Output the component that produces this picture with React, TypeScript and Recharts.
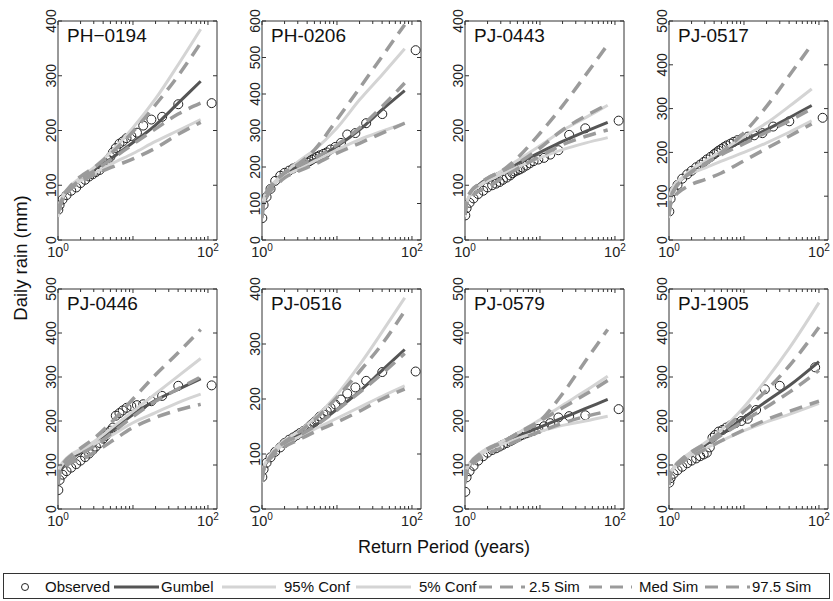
import React from 'react'
import {
  ComposedChart,
  Line,
  Scatter,
  XAxis,
  YAxis,
  ReferenceArea,
} from 'recharts'

const STATIONS = ['PH\u22120194', 'PH-0206', 'PJ-0443', 'PJ-0517', 'PJ-0446', 'PJ-0516', 'PJ-0579', 'PJ-1905']

// return periods (years) where the fitted curves are read
const T_GRID = [1, 1.05, 1.2, 1.5, 2, 3, 5, 10, 20, 40, 80]
const T_GRID_LONG = [1, 1.05, 1.2, 1.5, 2, 3, 5, 10, 20, 40, 100]

// plotting positions of the observed annual maxima
const OBS_T = [112, 40.2, 24.5, 17.6, 13.7, 11.3, 9.5, 8.2, 7.3, 6.6, 5.9, 5.4, 5.0, 4.6, 4.3, 4.0, 3.6, 3.2, 2.9, 2.6, 2.3, 2.0, 1.75, 1.5, 1.3, 1.15, 1.05, 1.01]
const OBS_T_SHORT = [89, 30, 19, 14.5, 11.2, 9.2, 7.7, 6.6, 5.8, 5.2, 4.6, 4.1, 3.8, 3.5, 3.2, 2.9, 2.6, 2.3, 2.0, 1.75, 1.5, 1.3, 1.15, 1.05, 1.01]

const GUMBEL = [
  [55, 65, 80, 97, 112, 128, 148, 178, 210, 250, 290],
  [69, 97, 124, 156, 179, 202, 220, 257, 302, 357, 409],
  [50, 65, 85, 100, 112, 124, 140, 160, 180, 198, 215],
  [65, 95, 118, 140, 158, 178, 200, 228, 252, 279, 307],
  [60, 82, 100, 115, 128, 145, 175, 215, 247, 272, 296],
  [57, 73, 88, 106, 121, 133, 151, 181, 214, 252, 290],
  [62, 85, 103, 120, 135, 148, 165, 186, 207, 228, 249],
  [58, 80, 97, 113, 128, 145, 170, 208, 245, 280, 335],
]

const CONF95 = [
  [42, 58, 82, 100, 114, 132, 160, 205, 258, 320, 385],
  [60, 97, 135, 161, 184, 214, 247, 307, 384, 453, 524],
  [42, 65, 85, 98, 110, 125, 145, 172, 200, 223, 246],
  [50, 96, 119, 141, 161, 180, 203, 236, 267, 305, 345],
  [60, 94, 109, 124, 136, 153, 182, 222, 262, 302, 342],
  [48, 75, 92, 110, 125, 140, 165, 208, 262, 322, 384],
  [60, 90, 108, 124, 138, 152, 172, 203, 236, 268, 302],
  [50, 80, 98, 115, 130, 150, 180, 232, 295, 365, 469],
]

const CONF5 = [
  [60, 68, 85, 98, 108, 121, 138, 158, 180, 200, 220],
  [78, 112, 135, 156, 175, 193, 216, 247, 275, 298, 320],
  [50, 68, 85, 97, 108, 120, 133, 150, 165, 177, 187],
  [80, 108, 127, 142, 153, 164, 180, 200, 222, 246, 272],
  [60, 90, 105, 121, 132, 147, 166, 196, 219, 242, 261],
  [55, 75, 90, 105, 118, 130, 145, 165, 185, 205, 224],
  [62, 88, 105, 120, 133, 146, 160, 176, 190, 200, 211],
  [60, 78, 95, 110, 123, 137, 155, 178, 198, 215, 240],
]

const SIM25 = [
  [52, 60, 78, 94, 106, 119, 132, 148, 168, 193, 215],
  [60, 97, 124, 147, 170, 188, 207, 238, 265, 293, 320],
  [46, 65, 77, 89, 96, 112, 130, 153, 174, 189, 201],
  [58, 81, 100, 115, 127, 138, 153, 181, 209, 237, 265],
  [55, 80, 94, 106, 112, 128, 152, 185, 208, 225, 238],
  [50, 70, 86, 100, 113, 125, 140, 158, 178, 200, 218],
  [58, 82, 98, 112, 125, 138, 155, 176, 195, 210, 222],
  [55, 77, 93, 107, 120, 135, 155, 180, 203, 222, 245],
]

const SIMMED = [
  [55, 64, 80, 96, 110, 126, 146, 175, 203, 230, 250],
  [69, 100, 128, 161, 184, 202, 224, 261, 307, 366, 430],
  [46, 71, 89, 101, 113, 125, 140, 168, 201, 226, 248],
  [60, 92, 116, 138, 156, 174, 195, 220, 246, 272, 300],
  [58, 82, 98, 112, 125, 142, 170, 210, 245, 273, 300],
  [55, 72, 88, 105, 120, 132, 150, 180, 212, 246, 283],
  [60, 86, 104, 120, 135, 150, 172, 200, 230, 260, 292],
  [56, 80, 97, 113, 128, 145, 168, 200, 232, 265, 315],
]

const SIM975 = [
  [48, 60, 82, 100, 116, 132, 157, 198, 247, 300, 360],
  [69, 112, 138, 161, 184, 207, 247, 330, 416, 503, 590],
  [46, 71, 89, 101, 113, 125, 150, 195, 245, 300, 357],
  [55, 95, 118, 138, 155, 172, 200, 245, 305, 375, 446],
  [60, 88, 106, 122, 138, 160, 195, 250, 305, 355, 408],
  [50, 72, 88, 106, 122, 138, 162, 203, 250, 300, 360],
  [60, 88, 106, 122, 137, 150, 170, 200, 262, 335, 408],
  [55, 80, 97, 114, 130, 148, 176, 222, 270, 325, 413],
]

const OBSERVED = [
  [250, 248, 225, 220, 209, 196, 190, 186, 180, 176, 168, 160, 152, 146, 140, 134, 128, 124, 120, 116, 110, 104, 96, 90, 82, 74, 64, 55],
  [520, 345, 320, 293, 289, 266, 255, 248, 240, 236, 232, 228, 224, 220, 216, 212, 208, 204, 200, 196, 190, 184, 176, 162, 140, 118, 96, 60],
  [218, 204, 192, 164, 156, 150, 147, 144, 140, 136, 132, 129, 127, 125, 122, 118, 114, 110, 106, 103, 100, 96, 90, 84, 76, 68, 58, 45],
  [279, 271, 259, 244, 239, 236, 232, 228, 224, 220, 216, 212, 208, 204, 200, 196, 190, 184, 178, 172, 166, 158, 150, 140, 126, 112, 94, 65],
  [281, 280, 257, 245, 238, 236, 234, 230, 224, 218, 212, 185, 178, 172, 166, 160, 150, 142, 134, 126, 118, 110, 102, 94, 86, 78, 66, 43],
  [250, 249, 233, 221, 210, 199, 190, 184, 178, 172, 168, 162, 158, 154, 150, 146, 142, 138, 134, 130, 126, 120, 112, 104, 94, 84, 72, 58],
  [227, 213, 211, 208, 195, 188, 182, 178, 175, 172, 169, 166, 163, 160, 157, 154, 150, 146, 142, 138, 134, 128, 120, 110, 98, 86, 72, 39],
  [322, 280, 272, 225, 205, 200, 195, 190, 185, 180, 176, 168, 162, 140, 128, 124, 120, 115, 110, 104, 96, 88, 80, 70, 60],
]

const Y_TICKS = [
  [0, 100, 200, 300, 400],
  [0, 100, 200, 300, 400, 500, 600],
  [0, 100, 200, 300, 400],
  [0, 100, 200, 300, 400, 500],
  [0, 100, 200, 300, 400, 500],
  [0, 100, 200, 300, 400],
  [0, 100, 200, 300, 400, 500],
  [0, 100, 200, 300, 400, 500],
]

const X_TICKS = [1, 2, 3, 4, 5, 6, 7, 8, 9, 10, 20, 30, 40, 50, 60, 70, 80, 90, 100]
const X_LABELS: Record<number, string> = { 1: '0', 100: '2' }
const X_MAX = 132

const LEGEND = ['Observed', 'Gumbel', '95% Conf', '5% Conf', '2.5 Sim', 'Med Sim', '97.5 Sim']

const FONT = '"Liberation Sans", Arial, Helvetica, sans-serif'
const AXIS = '#333'
const DARK = '#555'
const LIGHT = '#d4d4d4'
const DASH = '#9b9b9b'
const DASHES = '13 8'

const COL_LEFT = [58, 262, 465, 669]
const ROW_TOP = [21, 289]
const ROW_H = [219, 220]
const PLOT_W = 159
const Y_AXIS_W = 40
const TOP_PAD = 20
const RIGHT_PAD = 8
const X_AXIS_H = 30

function Panel({ idx }: { idx: number }) {
  const col = idx % 4
  const row = Math.floor(idx / 4)
  const H = ROW_H[row]
  const grid = idx === 7 ? T_GRID_LONG : T_GRID
  const obsT = idx === 7 ? OBS_T_SHORT : OBS_T
  const yTicks = Y_TICKS[idx]
  const yMax = yTicks[yTicks.length - 1]

  const rows = grid.map((T, i) => ({
    T,
    gumbel: GUMBEL[idx][i],
    c95: CONF95[idx][i],
    c5: CONF5[idx][i],
    s25: SIM25[idx][i],
    smed: SIMMED[idx][i],
    s975: SIM975[idx][i],
  }))
  const obs = obsT.map((T, i) => ({ T, obs: OBSERVED[idx][i] }))

  const XTick = ({ x, y, payload }: any) => {
    const v = payload.value
    const len = v === 1 || v === 10 || v === 100 ? 4 : 3
    const sup = X_LABELS[v]
    return (
      <g>
        <line x1={x} x2={x} y1={y} y2={y - len} stroke={AXIS} strokeWidth={1} />
        <line x1={x} x2={x} y1={y - H} y2={y - H + len} stroke={AXIS} strokeWidth={1} />
        {sup !== undefined && (
          <text x={x} y={y + 17} textAnchor="middle" fontSize={14.5} fill="#222" fontFamily={FONT}>
            10<tspan dy={-6} fontSize={10}>{sup}</tspan>
          </text>
        )}
      </g>
    )
  }

  const YTick = ({ x, y, payload }: any) => (
    <g>
      <line x1={x} x2={x + 4} y1={y} y2={y} stroke={AXIS} strokeWidth={1} />
      <line x1={x + PLOT_W} x2={x + PLOT_W - 4} y1={y} y2={y} stroke={AXIS} strokeWidth={1} />
      <text
        x={x - 2}
        y={y}
        transform={`rotate(-90, ${x - 2}, ${y})`}
        textAnchor="middle"
        fontSize={14}
        fill="#222"
        fontFamily={FONT}
      >
        {payload.value}
      </text>
    </g>
  )

  const circle = (p: any) => (
    <circle cx={p.cx} cy={p.cy} r={4.5} fill="none" stroke="#222" strokeWidth={1} />
  )

  const chartProps = {
    width: Y_AXIS_W + PLOT_W + RIGHT_PAD,
    height: TOP_PAD + H + X_AXIS_H,
    margin: { top: TOP_PAD, right: RIGHT_PAD, bottom: 0, left: 0 },
  }
  const axes = (withTicks: boolean) => [
    <XAxis
      key="x"
      dataKey="T"
      type="number"
      scale="log"
      domain={[1, X_MAX]}
      allowDataOverflow
      ticks={X_TICKS}
      interval={0}
      tick={withTicks ? <XTick /> : false}
      tickLine={false}
      axisLine={false}
      tickSize={0}
      tickMargin={0}
      height={X_AXIS_H}
    />,
    <YAxis
      key="y"
      type="number"
      domain={[0, yMax]}
      allowDataOverflow
      ticks={yTicks}
      interval={0}
      tick={withTicks ? <YTick /> : false}
      tickLine={false}
      axisLine={false}
      tickSize={0}
      tickMargin={0}
      width={Y_AXIS_W}
    />,
  ]
  const boxStyle: React.CSSProperties = {
    position: 'absolute',
    left: COL_LEFT[col] - Y_AXIS_W,
    top: ROW_TOP[row] - TOP_PAD,
  }

  return (
    <>
      {/* observed circles sit underneath the fitted lines */}
      <div style={boxStyle}>
        <ComposedChart {...chartProps}>
          {axes(false)}
          <Scatter data={obs} dataKey="obs" shape={circle} isAnimationActive={false} />
        </ComposedChart>
      </div>
      <div style={boxStyle}>
        <ComposedChart {...chartProps} data={rows}>
          {axes(true)}
          <Line type="monotone" dataKey="gumbel" stroke={DARK} strokeWidth={3} dot={false} activeDot={false} isAnimationActive={false} />
          <Line type="monotone" dataKey="c95" stroke={LIGHT} strokeWidth={3} dot={false} activeDot={false} isAnimationActive={false} />
          <Line type="monotone" dataKey="c5" stroke={LIGHT} strokeWidth={3} dot={false} activeDot={false} isAnimationActive={false} />
          <Line type="monotone" dataKey="s25" stroke={DASH} strokeWidth={3.5} strokeDasharray={DASHES} dot={false} activeDot={false} isAnimationActive={false} />
          <Line type="monotone" dataKey="smed" stroke={DASH} strokeWidth={3.5} strokeDasharray={DASHES} dot={false} activeDot={false} isAnimationActive={false} />
          <Line type="monotone" dataKey="s975" stroke={DASH} strokeWidth={3.5} strokeDasharray={DASHES} dot={false} activeDot={false} isAnimationActive={false} />
          <ReferenceArea x1={1} x2={X_MAX} y1={0} y2={yMax} fill="none" stroke={AXIS} strokeWidth={1} ifOverflow="visible" />
        </ComposedChart>
      </div>
    </>
  )
}

function Legend() {
  // sample x-ranges and text starts for each entry
  const samples = [
    null,
    [114, 159],
    [222, 276],
    [356, 411],
    [479, 525],
    [589, 632],
    [705, 750],
  ]
  const textX = [45, 161, 284, 419, 529, 639, 752]
  const cy = 587
  return (
    <g fontFamily={FONT} fontSize={15} fill="#111">
      <rect x={3.5} y={573.5} width={826} height={25} fill="#fff" stroke={AXIS} strokeWidth={1} />
      <circle cx={25} cy={cy} r={3.5} fill="none" stroke="#222" strokeWidth={1} />
      {LEGEND.map((label, i) => {
        const s = samples[i]
        const isDash = i >= 4
        const color = i === 1 ? DARK : i < 4 ? LIGHT : DASH
        return (
          <g key={label}>
            {s && (
              <line
                x1={s[0]}
                x2={s[1]}
                y1={cy}
                y2={cy}
                stroke={color}
                strokeWidth={3}
                strokeDasharray={isDash ? DASHES : undefined}
              />
            )}
            <text x={textX[i]} y={cy + 5}>{label}</text>
          </g>
        )
      })}
    </g>
  )
}

export default function App() {
  return (
    <div style={{ position: 'absolute', left: 0, top: 0, width: 833, height: 601, background: '#fff', fontFamily: FONT }}>
      {STATIONS.map((_, i) => (
        <Panel key={i} idx={i} />
      ))}
      <svg width={833} height={601} style={{ position: 'absolute', left: 0, top: 0, pointerEvents: 'none' }}>
        {STATIONS.map((name, i) => (
          <text
            key={name}
            x={COL_LEFT[i % 4] + 9}
            y={ROW_TOP[Math.floor(i / 4)] + 21}
            fontSize={19}
            fontFamily={FONT}
            fill="#111"
          >
            {name}
          </text>
        ))}
        <text
          x={27}
          y={258}
          transform="rotate(-90, 27, 258)"
          textAnchor="middle"
          fontSize={18.5}
          fontFamily={FONT}
          fill="#111"
        >
          Daily rain (mm)
        </text>
        <text x={444} y={553} textAnchor="middle" fontSize={18} fontFamily={FONT} fill="#111">
          Return Period (years)
        </text>
        <Legend />
      </svg>
    </div>
  )
}
